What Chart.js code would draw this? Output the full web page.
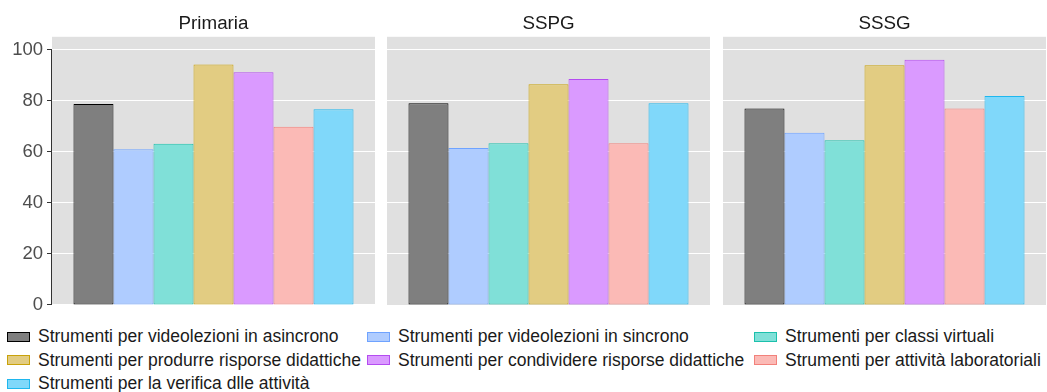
<!DOCTYPE html>
<html>
<head>
<meta charset="utf-8">
<script src="https://cdn.jsdelivr.net/npm/chart.js@4/dist/chart.umd.min.js"></script>
<style>
  body { margin: 0; background: #fff; font-family: "Liberation Sans", Arial, sans-serif; }
  #wrap { position: relative; width: 1047px; height: 392px; overflow: hidden; }
  canvas { position: absolute; top: 0; }
  #legend { position: absolute; left: 0; top: 0; width: 1047px; }
  .item { position: absolute; display: flex; align-items: center; font-size: 17.5px; color: #1a1a1a; white-space: nowrap; }
  .key { width: 21px; height: 8px; border: 1px solid; margin-right: 8px; }
</style>
</head>
<body>
<div id="wrap">
  <canvas id="c0" width="380" height="320" style="left:0px;width:380px;height:320px"></canvas>
  <canvas id="c1" width="328" height="320" style="left:387px;width:328px;height:320px"></canvas>
  <canvas id="c2" width="324" height="320" style="left:723px;width:324px;height:320px"></canvas>
  <div id="legend"></div>
</div>
<script>
// facets and series
const panels = ['Primaria', 'SSPG', 'SSSG'];
const seriesNames = [
  'Strumenti per videolezioni in asincrono',
  'Strumenti per videolezioni in sincrono',
  'Strumenti per classi virtuali',
  'Strumenti per produrre risporse didattiche',
  'Strumenti per condividere risporse didattiche',
  'Strumenti per attività laboratoriali',
  'Strumenti per la verifica dlle attività'
];
// one value per panel (Primaria, SSPG, SSSG)
const asincrono    = [78.7, 79.0, 76.9];
const sincrono     = [61.0, 61.5, 67.4];
const classi       = [63.1, 63.3, 64.5];
const produrre     = [94.2, 86.4, 93.9];
const condividere  = [91.1, 88.5, 96.0];
const laboratorio  = [69.8, 63.3, 76.9];
const verifica     = [76.6, 79.0, 81.8];
const seriesValues = [asincrono, sincrono, classi, produrre, condividere, laboratorio, verifica];

const fills   = ['#7f7f7f', '#afccff', '#80e0d8', '#e2cc82', '#da9aff', '#fbbab6', '#80d8fa'];
const borders = ['#000000', '#6fa3ff', '#1cc0ac', '#c9a20a', '#b44cf0', '#f2817b', '#1fb7ee'];
const yTicks = [0, 20, 40, 60, 80, 100];

const FONT = '"Liberation Sans", Arial, sans-serif';

// grey panel background + left axis line
const panelBg = {
  id: 'panelBg',
  beforeDraw(chart) {
    const a = chart.chartArea, ctx = chart.ctx;
    ctx.save();
    ctx.fillStyle = '#e0e0e0';
    ctx.fillRect(a.left, a.top, a.right - a.left, a.bottom - a.top);
    ctx.restore();
  },
  afterDraw(chart) {
    if (!chart.options.showAxisLine) return;
    const y = chart.scales.y, ctx = chart.ctx;
    ctx.save();
    ctx.strokeStyle = '#333';
    ctx.lineWidth = 1;
    ctx.beginPath();
    ctx.moveTo(chart.chartArea.left - 0.5, y.getPixelForValue(100));
    ctx.lineTo(chart.chartArea.left - 0.5, y.getPixelForValue(0));
    ctx.stroke();
    ctx.restore();
  }
};

function makePanel(i) {
  const first = i === 0;
  const datasets = seriesNames.map((name, s) => ({
    label: name,
    data: [seriesValues[s][i]],
    backgroundColor: fills[s],
    borderColor: borders[s],
    borderWidth: 1,
    borderSkipped: false,
    categoryPercentage: 0.867,
    barPercentage: 1
  }));
  new Chart(document.getElementById('c' + i), {
    type: 'bar',
    data: { labels: [panels[i]], datasets: datasets },
    plugins: [panelBg],
    options: {
      responsive: false,
      animation: false,
      showAxisLine: first,
      layout: { padding: { left: 0, right: i === 2 ? 1 : 5, top: 0, bottom: 15 } },
      plugins: {
        legend: { display: false },
        tooltip: { enabled: false },
        title: {
          display: true,
          text: panels[i],
          fullSize: false,
          color: '#1a1a1a',
          font: { family: FONT, size: 18.8, weight: 'normal', lineHeight: 1 },
          padding: { top: 14, bottom: 4 }
        }
      },
      scales: {
        x: { display: false, offset: true },
        y: {
          min: 0,
          max: 105,
          afterBuildTicks: (scale) => {
            scale.ticks = yTicks.map(v => ({ value: v }));
          },
          afterFit: (scale) => { scale.width = first ? 52 : 0; },
          border: { display: false },
          grid: {
            color: '#ffffff',
            lineWidth: 1,
            drawTicks: first,
            tickLength: 5,
            tickColor: '#333'
          },
          ticks: {
            display: first,
            padding: 4,
            color: '#4d4d4d',
            font: { family: FONT, size: 18.5 }
          }
        }
      }
    }
  });
}

panels.forEach((p, i) => makePanel(i));

// legend, 3 columns like the original
const colX = [7, 367, 754];
const rowY = [336.5, 360, 383.5];
const legend = document.getElementById('legend');
seriesNames.forEach((name, s) => {
  const el = document.createElement('div');
  el.className = 'item';
  el.style.left = colX[s % 3] + 'px';
  el.style.top = (rowY[Math.floor(s / 3)] - 11) + 'px';
  el.style.height = '22px';
  el.innerHTML = '<span class="key" style="background:' + fills[s] + ';border-color:' + borders[s] + '"></span>' + name;
  legend.appendChild(el);
});
</script>
</body>
</html>
